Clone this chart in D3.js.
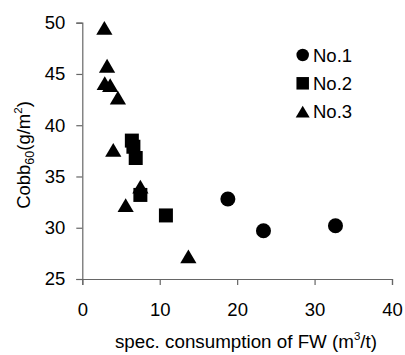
<!DOCTYPE html>
<html><head><meta charset="utf-8">
<script src="https://cdn.jsdelivr.net/npm/d3@7/dist/d3.min.js"></script>
<style>body{margin:0;background:#fff}svg{display:block}text{font-family:"Liberation Sans",Arial,sans-serif;fill:#000}</style>
</head><body><svg id="c" width="405" height="355"></svg>
<script>
const seriesNames = ["No.1", "No.2", "No.3"];
const no1X = [18.8, 23.4, 32.7];
const no1Y = [32.8, 29.7, 30.2];
const no2X = [6.4, 6.6, 6.9, 7.5, 10.8];
const no2Y = [38.5, 37.9, 36.8, 33.2, 31.2];
const no3X = [2.85, 3.2, 2.9, 3.6, 4.6, 4.0, 5.6, 7.5, 13.7];
const no3Y = [49.5, 45.8, 44.1, 43.9, 42.7, 37.6, 32.2, 34.0, 27.2];
const xTicks = [0, 10, 20, 30, 40];
const yTicks = [25, 30, 35, 40, 45, 50];

const svg = d3.select("#c");
const L = 82.3, R = 392, T = 22.7, B = 279;
const x = d3.scaleLinear().domain([0, 40]).range([L, R]);
const y = d3.scaleLinear().domain([25, 50]).range([B, T]);

const axisColor = "#666";
const gx = svg.append("g").attr("transform", `translate(0,${B})`)
  .call(d3.axisBottom(x).tickValues(xTicks).tickSize(6).tickPadding(17.5).tickFormat(d3.format("d")));
const gy = svg.append("g").attr("transform", `translate(${L},0)`)
  .call(d3.axisLeft(y).tickValues(yTicks).tickSize(6).tickPadding(11).tickFormat(d3.format("d")));
[gx, gy].forEach(g => {
  g.select(".domain").attr("stroke", axisColor).attr("stroke-width", 1.2);
  g.selectAll(".tick line").attr("stroke", axisColor).attr("stroke-width", 1.2);
  g.selectAll(".tick text").attr("font-size", 18.5).attr("font-family", '"Liberation Sans",Arial,sans-serif').attr("fill", "#000");
});

function shapePath(kind, s) {
  if (kind === 0) { const r = s / 2; return `M${-r},0A${r},${r} 0 1,0 ${r},0A${r},${r} 0 1,0 ${-r},0Z`; }
  if (kind === 1) { const h = s / 2; return `M${-h},${-h}H${h}V${h}H${-h}Z`; }
  const w = s * 1.12 / 2, h = s * 0.95 / 2; return `M0,${-h}L${w},${h}L${-w},${h}Z`;
}

const series = [
  {xs: no1X, ys: no1Y, kind: 0, size: 15},
  {xs: no2X, ys: no2Y, kind: 1, size: 14},
  {xs: no3X, ys: no3Y, kind: 2, size: 14.5}
];
series.forEach(s => {
  svg.append("g").selectAll("path").data(s.xs.map((v, i) => [v, s.ys[i]])).join("path")
    .attr("d", shapePath(s.kind, s.size))
    .attr("transform", d => `translate(${x(d[0])},${y(d[1])})`)
    .attr("fill", "#000");
});

// legend
const leg = svg.append("g");
seriesNames.forEach((n, i) => {
  const cy = 55 + i * 28.3;
  leg.append("path").attr("d", shapePath(i, 12.5)).attr("transform", `translate(302.7,${cy})`).attr("fill", "#000");
  leg.append("text").attr("x", 313).attr("y", cy).attr("dy", "0.36em").attr("font-size", 18.5).text(n);
});

// x title
const xt = svg.append("text").attr("x", 246).attr("y", 348).attr("text-anchor", "middle").attr("font-size", 18.8);
xt.append("tspan").text("spec. consumption of FW (m");
xt.append("tspan").attr("font-size", 11.5).attr("dy", -8).text("3");
xt.append("tspan").attr("dy", 8).text("/t)");

// y title
const yt = svg.append("text").attr("transform", "translate(30,155) rotate(-90)").attr("text-anchor", "middle").attr("font-size", 18.5);
yt.append("tspan").text("Cobb");
yt.append("tspan").attr("font-size", 12.5).attr("dy", 4).text("60");
yt.append("tspan").attr("dy", -4).text("(g/m");
yt.append("tspan").attr("font-size", 11.5).attr("dy", -8).text("2");
yt.append("tspan").attr("dy", 8).text(")");
</script></body></html>
